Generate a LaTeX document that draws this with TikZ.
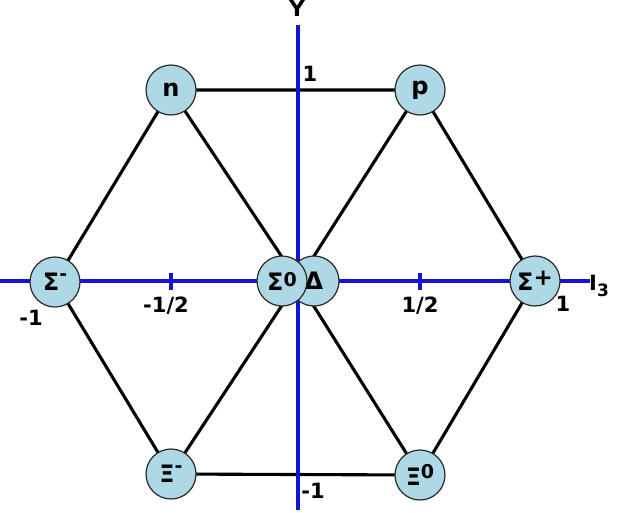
\documentclass[tikz,border=0pt]{standalone}
\usepackage{fontspec}
\setmainfont{DejaVu Sans}
\definecolor{axisblue}{RGB}{20,20,210}
\definecolor{nodefill}{RGB}{173,216,230}
\definecolor{nodeline}{RGB}{40,40,40}
\newcommand\hsup[3]{\raisebox{#1}{\fontsize{#2}{#2}\selectfont\bfseries #3}}
\tikzset{
  particle/.style={circle, draw=nodeline, line width=1.2pt, fill=nodefill, minimum size=50pt, inner sep=0pt,
    font=\fontsize{24}{26}\selectfont\bfseries},
  edge/.style={line width=3.1pt, black},
  axis/.style={line width=3.3pt, axisblue},
  lbl/.style={font=\fontsize{21}{23}\selectfont\bfseries, inner sep=0pt}
}
\begin{document}
\begin{tikzpicture}[x=1pt,y=-1pt]
\useasboundingbox (0,0) rectangle (617,512);
\coordinate (O) at (298,281);
% node positions
\coordinate (cn) at (171,90);
\coordinate (cp) at (420,90);
\coordinate (csm) at (55,282);
\coordinate (csz) at (282,281);
\coordinate (cd) at (314,281);
\coordinate (csp) at (535,281);
\coordinate (cxm) at (171,474);
\coordinate (cxz) at (420,475);
% edges
\draw[edge] (cn) -- (cp) -- (csp) -- (cxz) -- (cxm) -- (csm) -- (cn);
\draw[edge] (cn) -- (O) -- (cxz);
\draw[edge] (cp) -- (O) -- (cxm);
% axes
\coordinate (xl) at (0,281);
\coordinate (xr) at (590,281);
\coordinate (yt) at (298,25);
\coordinate (yb) at (298,510);
\draw[axis] (xl) -- (xr);
\draw[axis] (yt) -- (yb);
\coordinate (t1a) at (171,273); \coordinate (t1b) at (171,290);
\coordinate (t2a) at (420,273); \coordinate (t2b) at (420,290);
\draw[axis] (t1a) -- (t1b);
\draw[axis] (t2a) -- (t2b);
% nodes
\node[particle] (n) at (cn) {n};
\node[particle] (p) at (cp) {p};
\node[particle] (sm) at (csm) {Σ\hsup{0.45em}{19}{-}};
\node[particle] (sp) at (csp) {Σ\hsup{0.2em}{23}{+}};
\node[particle] (d) at (cd) {Δ};
\node[particle] (sz) at (csz) {Σ\hsup{0.17em}{19}{0}};
\node[particle] (xm) at (cxm) {Ξ\hsup{0.45em}{19}{-}};
\node[particle] (xz) at (cxz) {Ξ\hsup{0.3em}{19}{0}};
% labels
\node[lbl, anchor=base, font=\fontsize{22}{24}\selectfont\bfseries] (Ylab) at (297,16) {Y};
\node[lbl] (one) at (310,74) {1};
\node[lbl] (mone) at (313,491) {-1};
\node[lbl] (mleft) at (31,318) {-1};
\node[lbl] (mhalf) at (166,306) {-1/2};
\node[lbl] (half) at (420,306) {1/2};
\node[lbl] (oneright) at (563,304) {1};
\node[lbl, anchor=base west] (I3) at (589,290) {I\raisebox{-0.3em}{\fontsize{17}{17}\selectfont\bfseries 3}};
\end{tikzpicture}
\end{document}
